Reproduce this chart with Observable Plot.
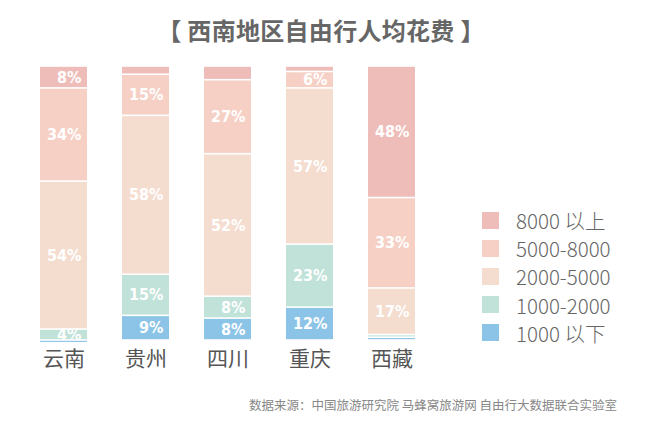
<!DOCTYPE html>
<html>
<head>
<meta charset="utf-8">
<script src="https://cdn.jsdelivr.net/npm/d3@7"></script>
<script src="https://cdn.jsdelivr.net/npm/@observablehq/plot@0.6"></script>
<style>
  html, body { margin: 0; padding: 0; background: #fff; }
  #wrap { position: relative; width: 650px; height: 433px; overflow: hidden; font-family: "Noto Sans CJK SC", "Noto Sans", sans-serif; }
  #title { position: absolute; left: 0; width: 642px; top: 13px; text-align: center; font-size: 24px; font-weight: bold; color: #666; line-height: 34px; letter-spacing: 0.3px; }
  #source { position: absolute; right: 33px; top: 396px; font-size: 12.5px; color: #888; line-height: 18px; }
  #legend { position: absolute; left: 482px; top: 206px; }
  .li { height: 28.2px; display: flex; align-items: center; font-size: 20.5px; font-weight: 300; color: #666; }
  .sw { width: 17px; height: 17px; margin-right: 17px; }
  #chart { position: absolute; left: 0; top: 0; }
  #chart text.pct { font-stretch: condensed; }
</style>
</head>
<body>
<div id="wrap">
  <div id="chart"></div>
  <div id="title"></div>
  <div id="legend"></div>
  <div id="source"></div>
</div>
<script>
const titleText = "【 西南地区自由行人均花费 】";
const sourceText = "数据来源：中国旅游研究院 马蜂窝旅游网 自由行大数据联合实验室";
const regions = ["云南", "贵州", "四川", "重庆", "西藏"];
const categories = ["8000 以上", "5000-8000", "2000-5000", "1000-2000", "1000 以下"];
const colors = ["#efbdb9", "#f6d0c5", "#f4dccf", "#c0e2d9", "#8cc4e7"];
// values per region, in category order (8000以上 → 1000以下)
const values = {
  "云南": [8, 34, 54, 4, 1],
  "贵州": [3, 15, 58, 15, 9],
  "四川": [5, 27, 52, 8, 8],
  "重庆": [2, 6, 57, 23, 12],
  "西藏": [48, 33, 17, 1, 1]
};
const labels = {
  "云南": ["8%", "34%", "54%", "4%", ""],
  "贵州": ["", "15%", "58%", "15%", "9%"],
  "四川": ["", "27%", "52%", "8%", "8%"],
  "重庆": ["", "6%", "57%", "23%", "12%"],
  "西藏": ["48%", "33%", "17%", "", ""]
};

const rows = [];
for (const r of regions) {
  categories.forEach((c, i) => rows.push({region: r, cat: c, value: values[r][i], label: labels[r][i]}));
}

const bandwidth = (451 - 3) / (5 + 0.43) * (1 - 0.43);

const chart = Plot.plot({
  width: 650,
  height: 433,
  marginTop: 66,
  marginBottom: 93,
  marginLeft: 3,
  marginRight: 199,
  x: {domain: regions, padding: 0.43, axis: null, label: null},
  y: {domain: [0, 100], reverse: true, axis: null, label: null},
  color: {domain: categories, range: colors},
  style: {fontFamily: "'Noto Sans CJK SC', sans-serif", background: "transparent"},
  marks: [
    Plot.barY(rows, Plot.stackY({x: "region", y: "value", z: "cat", fill: "cat", order: categories, insetTop: 0.8, insetBottom: 0.8})),
    Plot.text(rows, Plot.stackY({
      x: "region", y: "value", z: "cat", order: categories,
      text: "label", fill: "white", fontSize: 16, fontWeight: "bold",
      fontFamily: "'DejaVu Sans Condensed', 'DejaVu Sans', sans-serif",
      className: "pct",
      textAnchor: "end", dx: bandwidth / 2 - 6
    })),
    Plot.axisX({domain: regions, label: null, tickSize: 0, tickPadding: 11, fontSize: 21, fill: "#555", fontFamily: "'Noto Sans CJK SC', sans-serif"})
  ]
});
document.getElementById("chart").appendChild(chart);
document.getElementById("title").textContent = titleText;
document.getElementById("source").textContent = sourceText;
const lg = document.getElementById("legend");
categories.forEach((c, i) => {
  const row = document.createElement("div");
  row.className = "li";
  const sw = document.createElement("div");
  sw.className = "sw";
  sw.style.background = colors[i];
  const t = document.createElement("span");
  t.textContent = c;
  row.appendChild(sw);
  row.appendChild(t);
  lg.appendChild(row);
});
</script>
</body>
</html>
